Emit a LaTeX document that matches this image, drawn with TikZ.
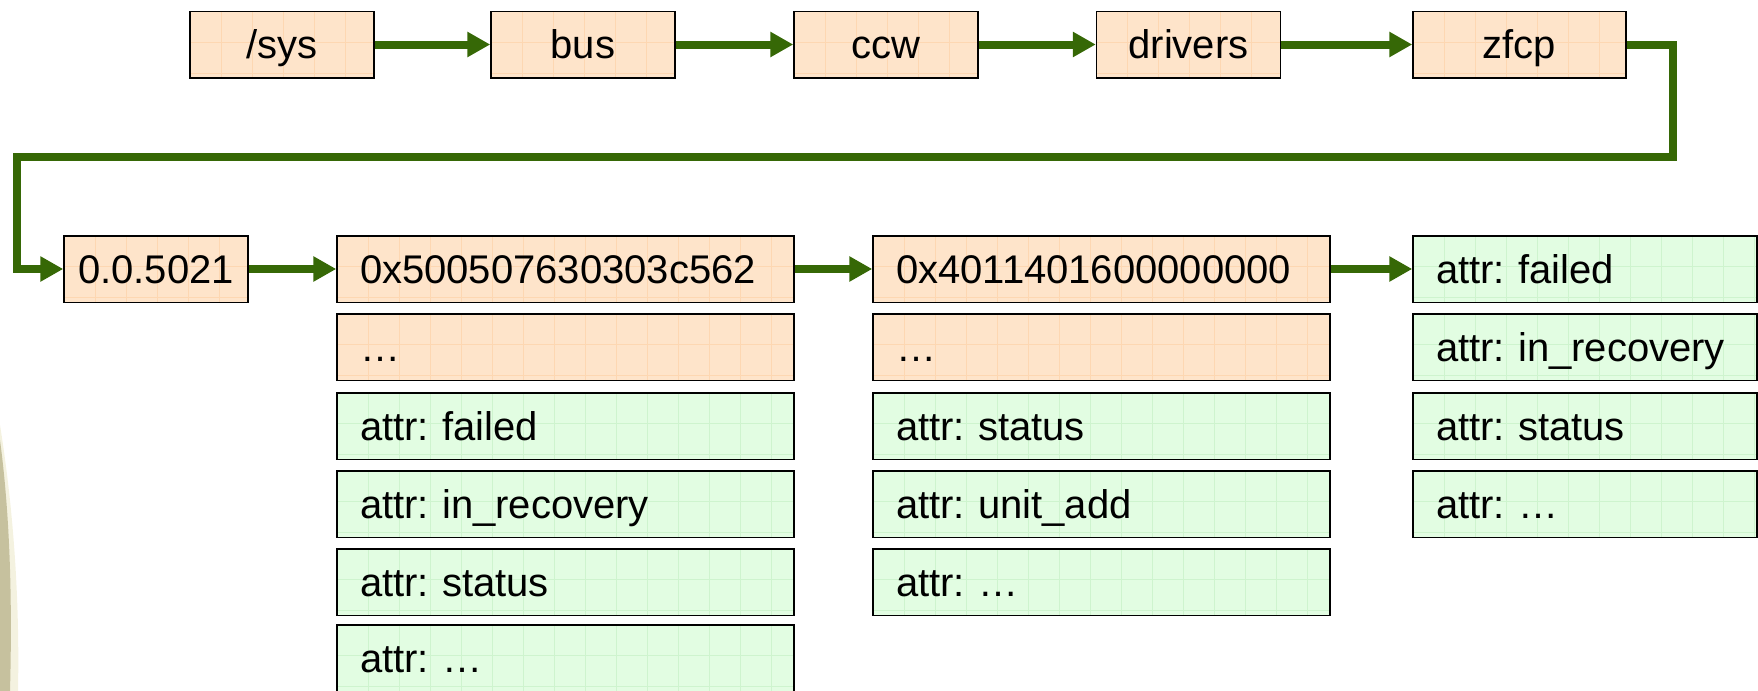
\documentclass[tikz,border=0pt]{standalone}
\usepackage{fontspec}
\setmainfont{Liberation Sans}
\usetikzlibrary{arrows.meta}
\frenchspacing

\definecolor{peachfill}{RGB}{254,228,202}
\definecolor{peachgrid}{RGB}{253,215,178}
\definecolor{mintfill}{RGB}{226,253,226}
\definecolor{mintgrid}{RGB}{206,244,206}
\definecolor{flowgreen}{RGB}{54,104,6}
\definecolor{orbcore}{RGB}{198,193,158}
\definecolor{orbhalo}{RGB}{244,242,224}

\tikzset{
  gridfill/.style={path picture={
      \foreach \i in {1,...,14}
        \draw[#1, line width=0.5pt]
          ([xshift=\i*15.5pt]path picture bounding box.north west) -- ++(0pt,-60pt);
      \foreach \j in {1,2}
        \draw[#1, line width=0.5pt]
          ([yshift=-\j*15.5pt]path picture bounding box.north west) -- ++(260pt,0pt);
    }},
  cell/.style={draw=black, line width=0.75pt, minimum height=33.25pt,
    inner ysep=0pt, font=\fontsize{20pt}{24pt}\selectfont,
    text height=14.3pt, text depth=0pt},
  peach/.style={cell, fill=peachfill, gridfill=peachgrid},
  mint/.style={cell, fill=mintfill, gridfill=mintgrid},
  pathbox/.style={peach, inner xsep=0pt, minimum width=#1},
  wide/.style={inner xsep=11.5pt, text width=205.5pt, align=left},
  narrow/.style={inner xsep=11.5pt, text width=149pt, align=left},
  flow/.style={draw=flowgreen, line width=4pt,
    -{Triangle[length=11.5pt, width=12pt]}},
}

\begin{document}
\begin{tikzpicture}[x=0.5pt, y=-0.5pt]
  \useasboundingbox (0,0) rectangle (1758,691);

  % globe edge peeking in at the left
  \fill[orbhalo] (0,425) .. controls (12,500) and (20,590) .. (18,691) -- (0,691) -- cycle;
  \fill[orbcore] (0,440) .. controls (8,500) and (13,580) .. (10,691) -- (0,691) -- cycle;

  % sysfs path
  \node[pathbox=92pt]    (sys)     at (282,44.5)   {/sys};
  \node[pathbox=92pt]    (bus)     at (583,44.5)   {bus};
  \node[pathbox=92pt]    (ccw)     at (886,44.5)   {ccw};
  \node[pathbox=92pt]    (drivers) at (1188.5,44.5){drivers};
  \node[pathbox=106.5pt] (zfcp)    at (1519.5,44.5){zfcp};

  % device
  \node[pathbox=92pt] (dev) at (156,269) {0.0.5021};

  % port column
  \node[peach, wide] (port)  at (565.5,269) {0x500507630303c562};
  \node[peach, wide] (portx) at (565.5,347) {…};
  \node[mint, wide]  (pa1)   at (565.5,426) {attr: failed};
  \node[mint, wide]  (pa2)   at (565.5,504) {attr: in\_recovery};
  \node[mint, wide]  (pa3)   at (565.5,582) {attr: status};
  \node[mint, wide]  (pa4)   at (565.5,658) {attr: …};

  % unit column
  \node[peach, wide] (unit)  at (1101.5,269) {0x4011401600000000};
  \node[peach, wide] (unitx) at (1101.5,347) {…};
  \node[mint, wide]  (ua1)   at (1101.5,426) {attr: status};
  \node[mint, wide]  (ua2)   at (1101.5,504) {attr: unit\_add};
  \node[mint, wide]  (ua3)   at (1101.5,582) {attr: …};

  % unit attributes
  \node[mint, narrow] (la1) at (1585,269) {attr: failed};
  \node[mint, narrow] (la2) at (1585,347) {attr: in\_recovery};
  \node[mint, narrow] (la3) at (1585,426) {attr: status};
  \node[mint, narrow] (la4) at (1585,504) {attr: …};

  % connectors
  \draw[flow] (sys) -- (bus);
  \draw[flow] (bus) -- (ccw);
  \draw[flow] (ccw) -- (drivers);
  \draw[flow] (drivers) -- (zfcp);

  \coordinate (turnR) at (1673,157);
  \coordinate (turnL) at (17,157);
  \draw[flow] (zfcp.east) -| (turnR) -- (turnL) |- (dev.west);

  \draw[flow] (dev) -- (port);
  \draw[flow] (port) -- (unit);
  \draw[flow] (unit) -- (la1);
\end{tikzpicture}
\end{document}
